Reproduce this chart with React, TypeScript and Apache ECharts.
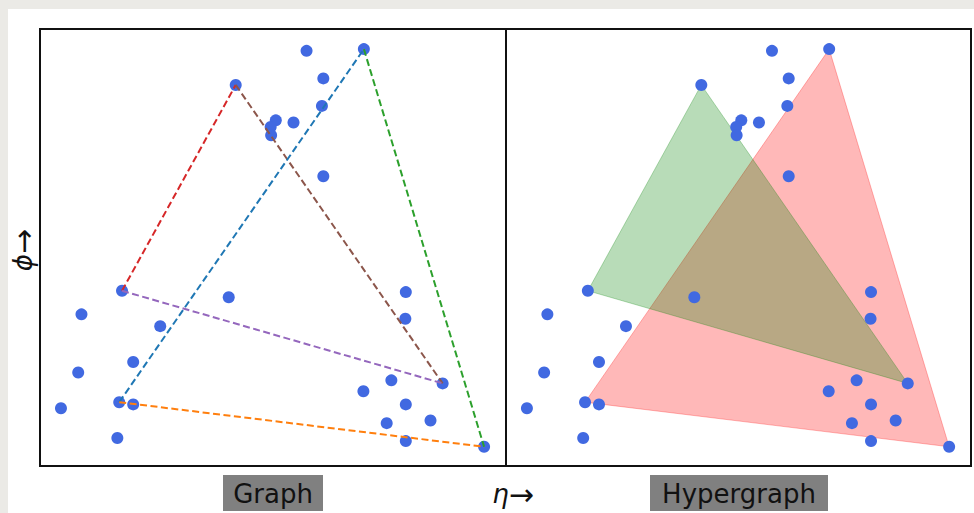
import React, { useEffect, useRef } from "react";
import * as echarts from "echarts";

// node positions (eta, phi), normalised to the panel
const etaValues = [0.572, 0.695, 0.42, 0.608, 0.605, 0.506, 0.495, 0.496, 0.544, 0.608, 0.176, 0.405, 0.089, 0.258, 0.785, 0.784, 0.2, 0.082, 0.754, 0.864, 0.694, 0.17, 0.2, 0.045, 0.785, 0.838, 0.744, 0.166, 0.785, 0.953];
const phiValues = [0.95, 0.954, 0.872, 0.887, 0.824, 0.791, 0.776, 0.757, 0.786, 0.663, 0.401, 0.386, 0.347, 0.32, 0.398, 0.337, 0.238, 0.214, 0.196, 0.189, 0.171, 0.146, 0.141, 0.132, 0.141, 0.104, 0.098, 0.064, 0.057, 0.044];

// graph edges (pairs of node indices)
const graphEdges = [
  [10, 2],
  [2, 19],
  [10, 19],
  [21, 1],
  [1, 29],
  [21, 29],
];
const graphEdgeColors = ["#d62728", "#8c564b", "#9467bd", "#1f77b4", "#2ca02c", "#ff7f0e"];

// hyperedges (triples of node indices)
const hyperEdges = [
  [21, 1, 29],
  [10, 2, 19],
];
const hyperEdgeColors = ["rgba(255,0,0,0.28)", "rgba(0,128,0,0.28)"];

const panelTitles = ["Graph", "Hypergraph"];

const FONT = "'DejaVu Sans', sans-serif";

export default function App() {
  const ref = useRef<HTMLDivElement>(null);
  useEffect(() => {
    document.body.style.margin = "0";
    if (!ref.current) return;
    const chart = echarts.init(ref.current, undefined, { renderer: "svg" });
    const points = etaValues.map((x, i) => [x, phiValues[i]]);

    const lineSeries = graphEdges.map(([a, b], i) => ({
      type: "line",
      xAxisIndex: 0,
      yAxisIndex: 0,
      data: [points[a], points[b]],
      showSymbol: false,
      symbol: "none",
      silent: true,
      z: 4,
      lineStyle: { color: graphEdgeColors[i], width: 2, type: [7, 3.5] },
    }));

    const hyperData = hyperEdges.map((tri) => tri.flatMap((k) => points[k]));

    const axisCommon = { type: "value", min: 0, max: 1, show: false };

    chart.setOption({
      animation: false,
      backgroundColor: "transparent",
      grid: [
        { left: 40, top: 29, width: 466, height: 437, show: true, borderColor: "#111", borderWidth: 2, backgroundColor: "#fff" },
        { left: 506, top: 29, width: 465, height: 437, show: true, borderColor: "#111", borderWidth: 2, backgroundColor: "#fff" },
      ],
      xAxis: [
        { ...axisCommon, gridIndex: 0 },
        { ...axisCommon, gridIndex: 1 },
      ],
      yAxis: [
        { ...axisCommon, gridIndex: 0 },
        { ...axisCommon, gridIndex: 1 },
      ],
      series: [
        {
          type: "scatter",
          xAxisIndex: 0,
          yAxisIndex: 0,
          data: points,
          symbolSize: 12,
          itemStyle: { color: "#4169e1", opacity: 1 },
          z: 3,
          silent: true,
        },
        ...lineSeries,
        {
          type: "custom",
          xAxisIndex: 1,
          yAxisIndex: 1,
          data: hyperData,
          silent: true,
          z: 2,
          renderItem: (params: any, api: any) => {
            const pts = [0, 1, 2].map((k) => api.coord([api.value(2 * k), api.value(2 * k + 1)]));
            const c = hyperEdgeColors[params.dataIndex];
            return {
              type: "polygon",
              shape: { points: pts },
              style: { fill: c, stroke: c, lineWidth: 1 },
            };
          },
        },
        {
          type: "scatter",
          xAxisIndex: 1,
          yAxisIndex: 1,
          data: points,
          symbolSize: 12,
          itemStyle: { color: "#4169e1", opacity: 1 },
          z: 3,
          silent: true,
        },
      ],
      graphic: [
        { type: "rect", shape: { x: 223, y: 475, width: 100, height: 36 }, style: { fill: "#808080" }, z: 10 },
        { type: "text", x: 273, y: 494, z: 11, style: { text: panelTitles[0], font: `26px ${FONT}`, fill: "#111", align: "center", verticalAlign: "middle" } },
        { type: "rect", shape: { x: 650, y: 475, width: 178, height: 36 }, style: { fill: "#808080" }, z: 10 },
        { type: "text", x: 739, y: 494, z: 11, style: { text: panelTitles[1], font: `26px ${FONT}`, fill: "#111", align: "center", verticalAlign: "middle" } },
        {
          type: "text",
          x: 513,
          y: 494,
          z: 11,
          style: {
            text: "{i|η}{n|→}",
            align: "center",
            verticalAlign: "middle",
            rich: {
              i: { font: `italic 26px ${FONT}`, fill: "#111" },
              n: { font: `30px ${FONT}`, fill: "#111" },
            },
          },
        },
        {
          type: "text",
          x: 23,
          y: 250,
          rotation: Math.PI / 2,
          z: 11,
          style: {
            text: "{i|ϕ}{n|→}",
            align: "center",
            verticalAlign: "middle",
            rich: {
              i: { font: `italic 26px ${FONT}`, fill: "#111" },
              n: { font: `30px ${FONT}`, fill: "#111" },
            },
          },
        },
      ],
    });
    return () => chart.dispose();
  }, []);
  return (
    <div
      style={{
        position: "fixed",
        left: 0,
        top: 0,
        width: 974,
        height: 513,
        background: "linear-gradient(#fff, #fff) 8px 9px / 966px 504px no-repeat, #ebeae6",
      }}
    >
      <div ref={ref} style={{ width: 974, height: 513 }} />
    </div>
  );
}
